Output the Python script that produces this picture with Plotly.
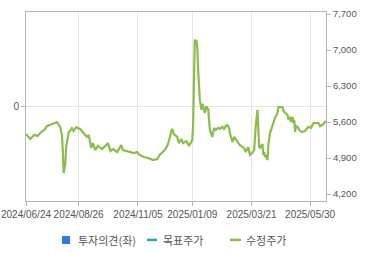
import plotly.graph_objects as go

dates = [
    "2024-06-24", "2024-06-29", "2024-07-04", "2024-07-08", "2024-07-12", "2024-07-16", "2024-07-19", "2024-07-25",
    "2024-07-31", "2024-08-04", "2024-08-06", "2024-08-07", "2024-08-08", "2024-08-10", "2024-08-11", "2024-08-14",
    "2024-08-18", "2024-08-20", "2024-08-23", "2024-08-28", "2024-09-01", "2024-09-05", "2024-09-07", "2024-09-10",
    "2024-09-12", "2024-09-15", "2024-09-18", "2024-09-23", "2024-09-27", "2024-09-30", "2024-10-03", "2024-10-06",
    "2024-10-11", "2024-10-16", "2024-10-18", "2024-10-23", "2024-10-27", "2024-10-31", "2024-11-04", "2024-11-07",
    "2024-11-12", "2024-11-17", "2024-11-23", "2024-11-28", "2024-12-01", "2024-12-05", "2024-12-07", "2024-12-10",
    "2024-12-12", "2024-12-15", "2024-12-16", "2024-12-18", "2024-12-22", "2024-12-24", "2024-12-27", "2024-12-29",
    "2025-01-02", "2025-01-05", "2025-01-08", "2025-01-09", "2025-01-10", "2025-01-11", "2025-01-12", "2025-01-14",
    "2025-01-15", "2025-01-16", "2025-01-17", "2025-01-18", "2025-01-20", "2025-01-21", "2025-01-22", "2025-01-23",
    "2025-01-24", "2025-01-26", "2025-01-27", "2025-01-28", "2025-01-29", "2025-01-30", "2025-02-02", "2025-02-04",
    "2025-02-06", "2025-02-09", "2025-02-11", "2025-02-14", "2025-02-16", "2025-02-18", "2025-02-20", "2025-02-22",
    "2025-02-23", "2025-02-26", "2025-02-28", "2025-03-02", "2025-03-05", "2025-03-07", "2025-03-10", "2025-03-12",
    "2025-03-14", "2025-03-17", "2025-03-19", "2025-03-22", "2025-03-24", "2025-03-25", "2025-03-26", "2025-03-28",
    "2025-03-29", "2025-03-30", "2025-03-31", "2025-04-03", "2025-04-04", "2025-04-05", "2025-04-06", "2025-04-07",
    "2025-04-09", "2025-04-10", "2025-04-12", "2025-04-14", "2025-04-16", "2025-04-18", "2025-04-21", "2025-04-22",
    "2025-04-24", "2025-04-27", "2025-04-28", "2025-04-30", "2025-05-03", "2025-05-04", "2025-05-06", "2025-05-07",
    "2025-05-09", "2025-05-10", "2025-05-11", "2025-05-12", "2025-05-13", "2025-05-15", "2025-05-17", "2025-05-20",
    "2025-05-24", "2025-05-28", "2025-05-31", "2025-06-03", "2025-06-06", "2025-06-09", "2025-06-11", "2025-06-13",
    "2025-06-15", "2025-06-18",
]

adj_price = [
    5367, 5270, 5350, 5330, 5405, 5445, 5520, 5560,
    5600, 5500, 5350, 5055, 4610, 4765, 5115, 5390,
    5480, 5425, 5500, 5460, 5390, 5310, 5350, 5095,
    5190, 5055, 5135, 5075, 5135, 5190, 5035, 5075,
    5015, 5150, 5055, 5035, 5015, 4995, 5015, 4960,
    4920, 4900, 4860, 4880, 4960, 5015, 5055, 5135,
    5230, 5425, 5465, 5365, 5310, 5190, 5270, 5190,
    5230, 5135, 5210, 5250, 5540, 6415, 7195, 7175,
    7040, 6610, 6220, 6030, 5835, 5950, 5910, 5815,
    5775, 5910, 5850, 5870, 5640, 5445, 5310, 5485,
    5445, 5485, 5465, 5505, 5465, 5520, 5540, 5485,
    5385, 5210, 5310, 5270, 5190, 5150, 5115, 5095,
    5015, 5115, 4960, 5000, 5055, 5310, 5540, 5835,
    5250, 5115, 5095, 5170, 4960, 5015, 4920, 4960,
    4860, 5150, 5385, 5485, 5580, 5680, 5775, 5890,
    5890, 5890, 5815, 5775, 5735, 5660, 5680, 5600,
    5700, 5580, 5640, 5405, 5520, 5505, 5445, 5405,
    5425, 5505, 5485, 5580, 5580, 5580, 5520, 5540,
    5560, 5620,
]

x_tick_dates = ["2024-06-24", "2024-08-26", "2024-11-05", "2025-01-09", "2025-03-21", "2025-05-30"]
x_tick_text = ["2024/06/24", "2024/08/26", "2024/11/05", "2025/01/09", "2025/03/21", "2025/05/30"]
right_ticks = [4200, 4900, 5600, 6300, 7000, 7700]
left_ticks = [0]

series_names = ["투자의견(좌)", "목표주가", "수정주가"]
series_colors = ["#2b7be0", "#2aa3bf", "#8cbc4a"]

fig = go.Figure()
fig.add_trace(go.Bar(x=[None], y=[None], name=series_names[0], marker_color=series_colors[0],
                     yaxis="y", showlegend=False))
fig.add_trace(go.Scatter(x=[None], y=[None], name=series_names[1], mode="lines",
                         line=dict(color=series_colors[1], width=2.5), yaxis="y2", showlegend=False))
fig.add_trace(go.Scatter(x=dates, y=adj_price, name=series_names[2], mode="lines",
                         line=dict(color=series_colors[2], width=2.2), yaxis="y2", showlegend=False))

axis_font = dict(family="Liberation Sans, Arial, sans-serif", size=10, color="#555555")
grid = "#e6e6e6"
line_c = "#b5b5b5"

# legend drawn below the plot (paper coordinates)
leg_y = -0.206
legend_font = dict(family="Noto Sans CJK KR, sans-serif", size=11, color="#555555")
shapes = [
    dict(type="rect", xref="paper", yref="paper", x0=0.12, x1=0.1467, y0=-0.2275, y1=-0.185,
         fillcolor=series_colors[0], line=dict(width=0)),
    dict(type="line", xref="paper", yref="paper", x0=0.4033, x1=0.4367, y0=leg_y, y1=leg_y,
         line=dict(color=series_colors[1], width=2.5)),
    dict(type="line", xref="paper", yref="paper", x0=0.68, x1=0.7167, y0=leg_y, y1=leg_y,
         line=dict(color=series_colors[2], width=2.5)),
]
annotations = [
    dict(text=series_names[0], x=0.1667, y=leg_y, xref="paper", yref="paper",
         xanchor="left", yanchor="middle", showarrow=False, font=legend_font),
    dict(text=series_names[1], x=0.45, y=leg_y, xref="paper", yref="paper",
         xanchor="left", yanchor="middle", showarrow=False, font=legend_font),
    dict(text=series_names[2], x=0.7267, y=leg_y, xref="paper", yref="paper",
         xanchor="left", yanchor="middle", showarrow=False, font=legend_font),
]

fig.update_layout(
    width=370, height=255,
    margin=dict(l=26, r=44, t=12, b=54, autoexpand=False),
    paper_bgcolor="white", plot_bgcolor="white",
    showlegend=False,
    shapes=shapes, annotations=annotations,
    xaxis=dict(type="date", range=["2024-06-24", "2025-06-18"],
               tickvals=x_tick_dates, ticktext=x_tick_text, tickangle=0,
               showgrid=True, gridcolor=grid, gridwidth=1,
               showline=True, linecolor=line_c, mirror=True,
               ticks="outside", ticklen=4, tickcolor=line_c,
               tickfont=axis_font, zeroline=False, automargin=False),
    yaxis=dict(range=[-1, 1], tickvals=left_ticks, ticktext=["0"],
               showgrid=True, gridcolor=grid, zeroline=False,
               showline=True, linecolor=line_c, mirror=True,
               ticks="outside", ticklen=4, tickcolor=line_c,
               tickfont=axis_font, automargin=False),
    yaxis2=dict(overlaying="y", side="right", range=[4064, 7739],
                tickvals=right_ticks, tickformat=",d", showgrid=False, zeroline=False,
                ticks="outside", ticklen=4, tickcolor=line_c,
                showline=True, linecolor=line_c, automargin=False,
                tickfont=dict(family="Liberation Sans, Arial, sans-serif", size=9.5, color="#555555")),
)

fig.write_html("out.html")
